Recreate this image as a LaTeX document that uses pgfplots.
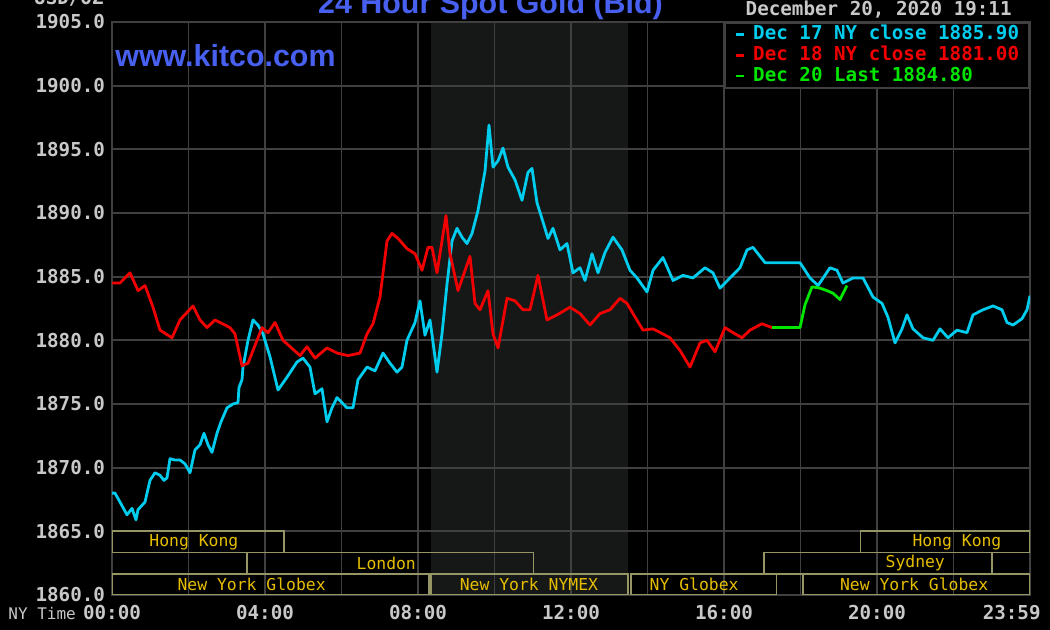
\documentclass[border=0pt]{standalone}
\usepackage{pgfplots}
\pgfplotsset{compat=1.18}
\usepackage{fontspec}
\newfontfamily\kmono{DejaVu Sans Mono}
\newfontfamily\ksans{Liberation Sans}
\newcommand{\tickfont}{\kmono\bfseries\fontsize{9.6}{11}\selectfont}
\newcommand{\sessfont}{\kmono\fontsize{8.2}{10}\selectfont}
\newcommand{\smallmono}{\kmono\fontsize{8}{10}\selectfont}
\newcommand{\titlefont}{\ksans\bfseries\fontsize{15.2}{18}\selectfont}
\definecolor{kcyan}{RGB}{0,204,238}
\definecolor{kred}{RGB}{240,0,0}
\definecolor{kgreen}{RGB}{0,230,0}
\definecolor{kgrid}{RGB}{64,64,64}
\definecolor{kshade}{RGB}{22,24,24}
\definecolor{kbox}{RGB}{150,150,100}
\definecolor{klabel}{RGB}{230,190,0}
\definecolor{ktext}{RGB}{200,200,200}
\definecolor{kblue}{RGB}{72,96,240}
\pagecolor{black}
\begin{document}%
\begin{tikzpicture}
\path (0pt,0pt) rectangle (525pt,315pt);
\begin{axis}[
  set layers,
  at={(56pt,17.5pt)}, anchor=south west,
  width=459pt, height=286.5pt, scale only axis,
  xmin=0, xmax=24, ymin=1860, ymax=1905,
  axis line style={kgrid, line width=0.9pt},
  grid=major, grid style={kgrid, line width=0.9pt},
  xtick={0,2,4,6,8,10,12,14,16,18,20,22,24},
  ytick={1860,1865,1870,1875,1880,1885,1890,1895,1900,1905},
  major tick length=0pt,
  xticklabels={00:00,,04:00,,08:00,,12:00,,16:00,,20:00,,{\hspace*{-18.3pt}23:59}},
  /pgf/number format/assume math mode=true,
  yticklabel style={/pgf/number format/fixed, /pgf/number format/fixed zerofill,
    /pgf/number format/precision=1, /pgf/number format/1000 sep={}},
  tick label style={font=\tickfont, text=ktext},
  xticklabel style={yshift=-1.5pt},
  legend style={at={(rel axis cs:1,1)}, anchor=north east, draw=kgrid, line width=0.9pt,
    fill=black, font=\tickfont, inner xsep=4.5pt, inner ysep=1pt, row sep=0.3pt,
    nodes={inner sep=0.5pt, text height=7pt, text depth=2pt},
    /tikz/every odd column/.append style={column sep=3.5pt}},
  legend cell align=left,
  legend image code/.code={\draw[#1, line width=1.4pt] (0pt,0pt) -- (4pt,0pt);},
]
\addplot[fill=kshade, draw=none, forget plot, on layer=axis background]
  coordinates {(8.333,1860) (8.333,1905) (13.5,1905) (13.5,1860)};

\addplot[kcyan, line width=1.4pt, line join=round] coordinates {
(0.000,1868.0) (0.078,1868.0) (0.209,1867.3) (0.392,1866.3) (0.523,1866.8) (0.627,1865.9) (0.680,1866.7) (0.863,1867.3) (0.993,1869.0) (1.124,1869.6) (1.255,1869.4) (1.359,1869.0) (1.438,1869.2) (1.516,1870.7) (1.647,1870.6) (1.778,1870.6) (1.908,1870.3) (2.039,1869.6) (2.170,1871.4) (2.301,1871.8) (2.405,1872.7) (2.510,1871.8) (2.614,1871.2) (2.745,1872.7) (2.850,1873.6) (3.007,1874.7) (3.163,1875.0) (3.294,1875.1) (3.320,1876.3) (3.399,1876.9) (3.425,1877.9) (3.556,1880.0) (3.686,1881.6) (3.817,1881.2) (3.948,1880.5) (4.131,1878.7) (4.340,1876.1) (4.575,1877.1) (4.837,1878.3) (4.993,1878.6) (5.176,1877.9) (5.307,1875.8) (5.490,1876.2) (5.621,1873.6) (5.752,1874.7) (5.882,1875.5) (6.144,1874.7) (6.301,1874.7) (6.431,1876.9) (6.667,1877.9) (6.876,1877.6) (7.085,1879.0) (7.268,1878.2) (7.451,1877.5) (7.582,1877.9) (7.712,1880.0) (7.922,1881.4) (8.052,1883.1) (8.183,1880.4) (8.314,1881.6) (8.497,1877.5) (8.627,1880.5) (8.758,1884.4) (8.889,1887.8) (9.020,1888.8) (9.150,1888.1) (9.281,1887.6) (9.412,1888.4) (9.569,1890.2) (9.752,1893.3) (9.856,1896.9) (9.961,1893.6) (10.092,1894.1) (10.222,1895.1) (10.353,1893.6) (10.536,1892.6) (10.719,1891.0) (10.876,1893.2) (10.980,1893.5) (11.111,1890.8) (11.268,1889.3) (11.399,1888.0) (11.529,1888.8) (11.712,1887.1) (11.895,1887.6) (12.052,1885.3) (12.235,1885.7) (12.366,1884.7) (12.549,1886.8) (12.706,1885.3) (12.889,1886.9) (13.098,1888.1) (13.333,1887.1) (13.542,1885.5) (13.725,1884.9) (13.987,1883.8) (14.144,1885.5) (14.405,1886.5) (14.667,1884.7) (14.928,1885.1) (15.190,1884.9) (15.503,1885.7) (15.712,1885.3) (15.895,1884.1) (16.157,1884.9) (16.418,1885.7) (16.601,1887.1) (16.758,1887.3) (17.072,1886.1) (17.987,1886.1) (18.248,1884.9) (18.458,1884.3) (18.771,1885.7) (18.954,1885.5) (19.111,1884.5) (19.373,1884.9) (19.634,1884.9) (19.895,1883.4) (20.131,1882.9) (20.288,1881.8) (20.471,1879.8) (20.654,1880.9) (20.784,1882.0) (20.941,1880.9) (21.203,1880.2) (21.464,1880.0) (21.647,1880.9) (21.856,1880.2) (22.092,1880.8) (22.353,1880.6) (22.510,1882.0) (22.771,1882.4) (23.033,1882.7) (23.268,1882.4) (23.399,1881.4) (23.556,1881.2) (23.791,1881.7) (23.922,1882.4) (24.000,1883.5)
};
\addlegendentry[text=kcyan]{Dec 17 NY close 1885.90}

\addplot[kred, line width=1.4pt, line join=round] coordinates {
(0.000,1884.5) (0.209,1884.5) (0.471,1885.3) (0.680,1883.9) (0.863,1884.3) (1.072,1882.6) (1.255,1880.8) (1.569,1880.2) (1.778,1881.6) (2.118,1882.7) (2.301,1881.6) (2.484,1881.0) (2.693,1881.6) (3.085,1881.0) (3.216,1880.5) (3.399,1878.0) (3.556,1878.2) (3.922,1881.0) (4.078,1880.6) (4.261,1881.4) (4.471,1880.0) (4.915,1878.8) (5.098,1879.5) (5.307,1878.6) (5.621,1879.4) (5.882,1879.0) (6.170,1878.8) (6.484,1879.0) (6.667,1880.5) (6.824,1881.3) (7.007,1883.4) (7.190,1887.8) (7.320,1888.4) (7.477,1888.0) (7.712,1887.2) (7.922,1886.8) (8.105,1885.5) (8.261,1887.3) (8.366,1887.3) (8.497,1885.3) (8.627,1887.8) (8.732,1889.8) (8.837,1886.8) (9.046,1883.9) (9.359,1886.6) (9.490,1882.9) (9.621,1882.4) (9.830,1883.9) (9.961,1880.5) (10.092,1879.4) (10.327,1883.3) (10.536,1883.1) (10.745,1882.4) (10.928,1882.4) (11.137,1885.1) (11.373,1881.6) (11.634,1882.0) (11.974,1882.6) (12.235,1882.1) (12.497,1881.2) (12.758,1882.1) (13.020,1882.4) (13.281,1883.3) (13.464,1882.9) (13.621,1882.1) (13.882,1880.8) (14.144,1880.9) (14.405,1880.5) (14.588,1880.2) (14.850,1879.2) (15.111,1877.9) (15.373,1879.8) (15.556,1880.0) (15.765,1879.1) (16.026,1881.0) (16.235,1880.6) (16.471,1880.2) (16.680,1880.8) (16.993,1881.3) (17.255,1881.0)
};
\addlegendentry[text=kred]{Dec 18 NY close 1881.00}

\addplot[kgreen, line width=1.4pt, line join=round] coordinates {
(17.255,1881.0) (17.987,1881.0) (18.118,1882.8) (18.301,1884.2) (18.510,1884.1) (18.693,1883.9) (18.850,1883.7) (19.033,1883.2) (19.216,1884.3)
};
\addlegendentry[text=kgreen]{Dec 20 Last 1884.80}

% trading sessions
\draw[kbox, line width=0.9pt] (axis cs:0,1863.333) rectangle (axis cs:4.5,1865);
\draw[kbox, line width=0.9pt] (axis cs:19.57,1863.333) rectangle (axis cs:24,1865);
\draw[kbox, line width=0.9pt] (axis cs:3.52,1861.667) rectangle (axis cs:11.02,1863.333);
\draw[kbox, line width=0.9pt] (axis cs:17.04,1861.667) rectangle (axis cs:23.0,1863.333);
\draw[kbox, line width=0.9pt] (axis cs:0,1860) rectangle (axis cs:8.28,1861.667);
\draw[kbox, line width=0.9pt] (axis cs:8.333,1860) rectangle (axis cs:13.5,1861.667);
\draw[kbox, line width=0.9pt] (axis cs:13.57,1860) rectangle (axis cs:17.37,1861.667);
\draw[kbox, line width=0.9pt] (axis cs:18.07,1860) rectangle (axis cs:24,1861.667);
\node[text=klabel, font=\sessfont] at (axis cs:2.14,1864.17) {Hong Kong};
\node[text=klabel, font=\sessfont] at (axis cs:22.09,1864.17) {Hong Kong};
\node[text=klabel, font=\sessfont] at (axis cs:7.17,1862.5) {London};
\node[text=klabel, font=\sessfont] at (axis cs:21.0,1862.5) {Sydney};
\node[text=klabel, font=\sessfont] at (axis cs:3.65,1860.83) {New York Globex};
\node[text=klabel, font=\sessfont] at (axis cs:10.9,1860.83) {New York NYMEX};
\node[text=klabel, font=\sessfont] at (axis cs:15.22,1860.83) {NY Globex};
\node[text=klabel, font=\sessfont] at (axis cs:20.97,1860.83) {New York Globex};
\end{axis}
\begin{scope}[overlay]
\node[anchor=base west, font=\titlefont, text=kblue, inner sep=0pt] at (57.5pt,281.5pt) {www.kitco.com};
\node[anchor=base, font=\titlefont, text=kblue, inner sep=0pt] at (245.25pt,308pt) {24 Hour Spot Gold (Bid)};
\node[anchor=base east, font=\tickfont, text=ktext, inner sep=0pt] at (506pt,307pt) {December 20, 2020 19:11};
\node[anchor=base east, font=\tickfont, text=ktext, inner sep=0pt] at (52pt,312.5pt) {USD/OZ};
\node[anchor=base west, font=\smallmono, text=ktext, inner sep=0pt] at (4pt,5pt) {NY Time};
\end{scope}
\pgfresetboundingbox
\path[use as bounding box] (0pt,0pt) rectangle (525pt,315pt);
\end{tikzpicture}%
\end{document}
